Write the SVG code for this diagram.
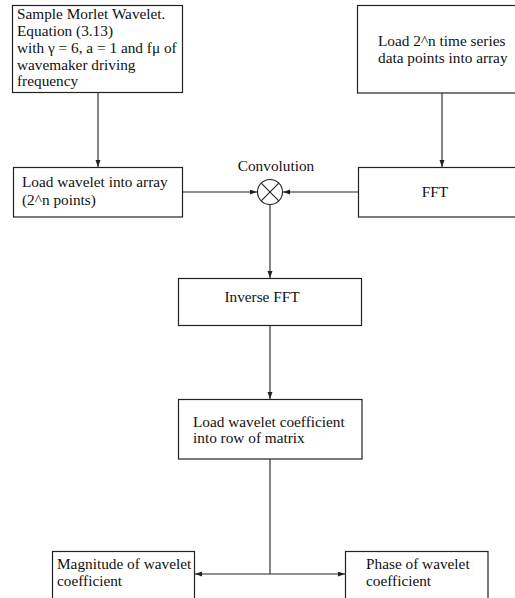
<svg xmlns="http://www.w3.org/2000/svg" width="515" height="598" viewBox="0 0 515 598">
<style>
.box{fill:#fff;stroke:#222;stroke-width:1.2}
.t{font-family:"Liberation Serif","Times New Roman",serif;font-size:15.3px;fill:#111}
.c{text-anchor:middle}
.ln{fill:none;stroke:#222;stroke-width:1.1}
.ar{marker-end:url(#ah)}
</style>
<defs>
<marker id="ah" markerUnits="userSpaceOnUse" markerWidth="8" markerHeight="6" refX="7" refY="2.5" orient="auto">
<path d="M0,0 L7,2.5 L0,5 z" fill="#222"/>
</marker>
</defs>
<rect width="515" height="598" fill="#fff"/>
<g id="connectors">
<line class="ln ar" x1="98" y1="92" x2="98" y2="167"/>
<line class="ln ar" x1="442" y1="93" x2="442" y2="167"/>
<line class="ln ar" x1="182" y1="192" x2="257" y2="192"/>
<line class="ln ar" x1="358" y1="192" x2="283" y2="192"/>
<line class="ln ar" x1="270" y1="205" x2="270" y2="278"/>
<line class="ln ar" x1="270" y1="325" x2="270" y2="399"/>
<line class="ln" x1="270" y1="459" x2="270" y2="574"/>
<line class="ln ar" x1="270" y1="574" x2="195" y2="574"/>
<line class="ln ar" x1="270" y1="574" x2="345" y2="574"/>
</g>
<g id="sample-morlet">
<rect class="box" x="12.5" y="5.5" width="170" height="87"/>
<text class="t" x="17" y="19">Sample Morlet Wavelet.</text>
<text class="t" x="17" y="36">Equation (3.13)</text>
<text class="t" x="17" y="53">with γ = 6, a = 1 and fμ of</text>
<text class="t" x="17" y="70">wavemaker driving</text>
<text class="t" x="17" y="86">frequency</text>
</g>
<g id="load-time-series">
<rect class="box" x="357.5" y="5.5" width="170" height="87.5"/>
<text class="t" x="378" y="46">Load 2^n time series</text>
<text class="t" x="378" y="63">data points into array</text>
</g>
<g id="load-wavelet">
<rect class="box" x="13.5" y="167.5" width="169" height="49.5"/>
<text class="t" x="22" y="187">Load wavelet into array</text>
<text class="t" x="22" y="205">(2^n points)</text>
</g>
<g id="fft">
<rect class="box" x="358.5" y="167.5" width="170" height="49.5"/>
<text class="t c" x="435" y="197">FFT</text>
</g>
<g id="convolution">
<text class="t c" x="276" y="171">Convolution</text>
<circle cx="270" cy="192" r="12.5" fill="#fff" stroke="#222" stroke-width="1.1"/>
<path d="M261.2,183.2 L278.8,200.8 M278.8,183.2 L261.2,200.8" stroke="#222" stroke-width="1.1"/>
</g>
<g id="inverse-fft">
<rect class="box" x="178.5" y="278.5" width="183" height="47"/>
<text class="t c" x="262" y="302">Inverse FFT</text>
</g>
<g id="load-coefficient">
<rect class="box" x="178.5" y="399.5" width="183.5" height="59.5"/>
<text class="t" x="193" y="427">Load wavelet coefficient</text>
<text class="t" x="193" y="443">into row of matrix</text>
</g>
<g id="magnitude">
<rect class="box" x="52.5" y="551.5" width="142" height="60"/>
<text class="t" x="57" y="569">Magnitude of wavelet</text>
<text class="t" x="57" y="586">coefficient</text>
</g>
<g id="phase">
<rect class="box" x="345.5" y="551.5" width="142.5" height="60"/>
<text class="t" x="366" y="569">Phase of wavelet</text>
<text class="t" x="366" y="586">coefficient</text>
</g>
</svg>
